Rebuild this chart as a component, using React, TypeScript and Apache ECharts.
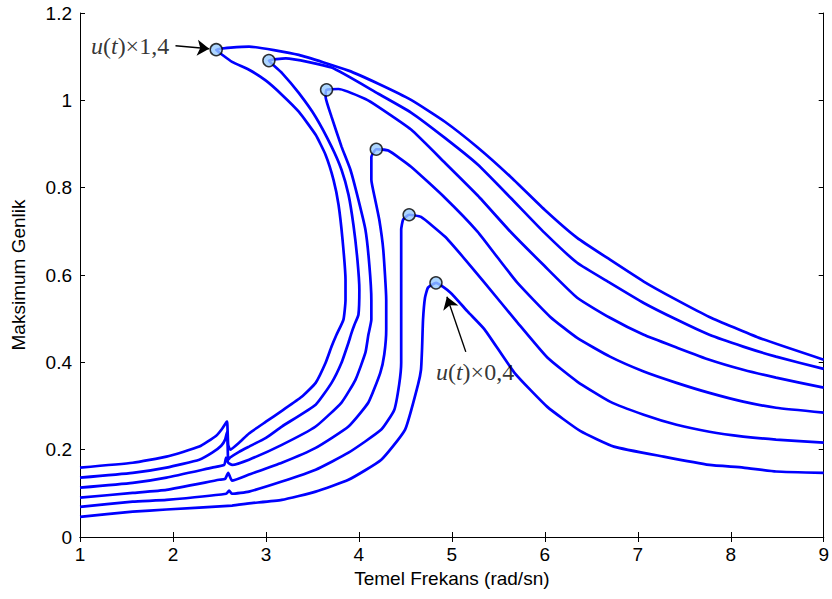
import React, { useEffect, useRef } from 'react';
import * as echarts from 'echarts';

// Frequency-response curves (x: Temel Frekans, y: Maksimum Genlik)
const curve14: number[][] = [
  [1.0, 0.159], [1.567, 0.17], [1.93, 0.184], [2.283, 0.207], [2.465, 0.232], [2.529, 0.248], [2.572, 0.262], [2.583, 0.264],
  [2.594, 0.211], [2.615, 0.2], [2.711, 0.216], [2.818, 0.237], [3.0, 0.264], [3.171, 0.289], [3.385, 0.321], [3.535, 0.353],
  [3.642, 0.399], [3.706, 0.436], [3.759, 0.463], [3.834, 0.498], [3.856, 0.543], [3.856, 0.589], [3.824, 0.681], [3.781, 0.761],
  [3.727, 0.818], [3.642, 0.875], [3.535, 0.921], [3.353, 0.974], [3.171, 1.013], [3.0, 1.045], [2.818, 1.07], [2.636, 1.088],
  [2.465, 1.116], [2.818, 1.123], [3.353, 1.104], [3.888, 1.068], [4.209, 1.038], [4.561, 1.001], [4.925, 0.951], [5.278, 0.892],
  [5.631, 0.825], [5.995, 0.75], [6.348, 0.685], [6.701, 0.635], [7.064, 0.585], [7.417, 0.543], [7.77, 0.504], [8.305, 0.456],
  [9.0, 0.406],
];
const curve12: number[][] = [
  [1.0, 0.136], [1.567, 0.147], [1.93, 0.159], [2.283, 0.177], [2.422, 0.193], [2.519, 0.209], [2.561, 0.223], [2.583, 0.241],
  [2.594, 0.177], [2.615, 0.182], [2.711, 0.195], [2.818, 0.207], [3.0, 0.227], [3.171, 0.253], [3.535, 0.303], [3.706, 0.353],
  [3.813, 0.399], [3.888, 0.445], [3.92, 0.467], [3.952, 0.486], [3.995, 0.509], [4.005, 0.566], [3.984, 0.635], [3.941, 0.715],
  [3.888, 0.784], [3.813, 0.841], [3.706, 0.894], [3.535, 0.962], [3.353, 1.017], [3.171, 1.063], [3.032, 1.091], [3.214, 1.096],
  [3.706, 1.075], [4.209, 1.015], [4.561, 0.972], [4.925, 0.914], [5.278, 0.853], [5.631, 0.777], [5.995, 0.697], [6.348, 0.628],
  [6.701, 0.582], [7.064, 0.536], [7.417, 0.498], [7.77, 0.463], [8.134, 0.436], [8.487, 0.413], [9.0, 0.385],
];
const curve10: number[][] = [
  [1.0, 0.113], [1.567, 0.124], [1.93, 0.136], [2.422, 0.159], [2.551, 0.165], [2.572, 0.182], [2.594, 0.17], [2.636, 0.165],
  [2.818, 0.177], [3.171, 0.211], [3.535, 0.253], [3.813, 0.308], [3.963, 0.36], [4.07, 0.422], [4.102, 0.463], [4.134, 0.498],
  [4.134, 0.543], [4.112, 0.624], [4.07, 0.704], [3.995, 0.772], [3.909, 0.841], [3.813, 0.894], [3.706, 0.962], [3.642, 1.008],
  [3.652, 1.024], [3.781, 1.026], [4.07, 1.003], [4.209, 0.985], [4.561, 0.933], [4.925, 0.857], [5.278, 0.782], [5.631, 0.699],
  [5.995, 0.621], [6.348, 0.548], [6.701, 0.502], [7.064, 0.463], [7.417, 0.434], [7.77, 0.406], [8.134, 0.383], [8.487, 0.365],
  [9.0, 0.342],
];
const curve08: number[][] = [
  [1.0, 0.09], [1.567, 0.101], [1.93, 0.108], [2.497, 0.131], [2.561, 0.133], [2.594, 0.147], [2.636, 0.129], [2.818, 0.143],
  [3.171, 0.17], [3.535, 0.204], [3.888, 0.253], [4.102, 0.308], [4.23, 0.376], [4.273, 0.418], [4.294, 0.475], [4.294, 0.543],
  [4.262, 0.658], [4.219, 0.727], [4.176, 0.772], [4.134, 0.818], [4.134, 0.87], [4.187, 0.888], [4.316, 0.885], [4.561, 0.848],
  [4.925, 0.777], [5.278, 0.699], [5.492, 0.64], [5.706, 0.582], [6.059, 0.504], [6.348, 0.456], [6.701, 0.413], [7.064, 0.379],
  [7.417, 0.353], [7.77, 0.33], [8.134, 0.31], [8.487, 0.296], [9.0, 0.285],
];
const curve06: number[][] = [
  [1.0, 0.069], [1.567, 0.081], [1.93, 0.085], [2.572, 0.099], [2.604, 0.106], [2.636, 0.099], [2.818, 0.104], [3.171, 0.127],
  [3.535, 0.154], [3.888, 0.193], [4.241, 0.246], [4.38, 0.291], [4.433, 0.349], [4.455, 0.399], [4.455, 0.452], [4.455, 0.543],
  [4.455, 0.635], [4.455, 0.704], [4.476, 0.727], [4.54, 0.738], [4.668, 0.733], [4.925, 0.688], [5.096, 0.647], [5.353, 0.582],
  [5.706, 0.491], [6.027, 0.411], [6.348, 0.356], [6.701, 0.31], [7.064, 0.28], [7.417, 0.257], [7.77, 0.241], [8.134, 0.23],
  [8.487, 0.223], [9.0, 0.216],
];
const curve04: number[][] = [
  [1.0, 0.046], [1.567, 0.058], [1.93, 0.063], [2.636, 0.072], [2.818, 0.077], [3.171, 0.085], [3.535, 0.104], [3.888, 0.131],
  [4.241, 0.177], [4.497, 0.246], [4.636, 0.349], [4.668, 0.383], [4.679, 0.429], [4.69, 0.498], [4.711, 0.548], [4.743, 0.571],
  [4.829, 0.582], [4.989, 0.559], [5.171, 0.516], [5.353, 0.475], [5.674, 0.376], [6.027, 0.298], [6.38, 0.243], [6.743, 0.207],
  [7.278, 0.184], [7.77, 0.165], [8.134, 0.159], [8.487, 0.15], [9.0, 0.147],
];
const curves = [curve14, curve12, curve10, curve08, curve06, curve04];

// Peak markers
const peaks: number[][] = [
  [2.465, 1.116], [3.032, 1.091], [3.652, 1.024], [4.187, 0.888], [4.54, 0.738], [4.829, 0.582],
];

// Annotations
const annotationTexts = ['1,4', '0,4'];
const annotationAnchors: number[][] = [[1.118, 1.125], [4.829, 0.377]];
const arrowStarts: number[][] = [[2.027, 1.125], [5.15, 0.424]];
const arrowEnds: number[][] = [[2.39, 1.118], [4.947, 0.55]];

const xMin = 1, xMax = 9, xStep = 1;
const yMin = 0, yMax = 1.2, yStep = 0.2;

export default function App() {
  const ref = useRef<HTMLDivElement>(null);
  useEffect(() => {
    const chart = echarts.init(ref.current!, null, { renderer: 'svg' });
    const sans = '"Liberation Sans", Arial, Helvetica, sans-serif';
    const serif = '"Liberation Serif", "Times New Roman", serif';
    const tickStyle = { show: true, inside: true, length: 5, lineStyle: { color: '#000', width: 1 } };
    const lineSeries = curves.map((d) => ({
      type: 'line',
      data: d,
      showSymbol: false,
      symbol: 'none',
      smooth: 0.15,
      clip: true,
      lineStyle: { color: '#0000ff', width: 2.7 },
      z: 2,
      silent: true,
    }));
    (lineSeries[0] as any).markLine = {
      silent: true,
      symbol: ['none', 'arrow'],
      symbolSize: 12,
      lineStyle: { color: '#000', width: 1.4, type: 'solid' },
      label: { show: false },
      data: arrowStarts.map((s, i) => [{ coord: s }, { coord: arrowEnds[i] }]),
    };
    const option: any = {
      animation: false,
      backgroundColor: '#fff',
      grid: { left: 80, right: 4, top: 13, bottom: 62, containLabel: false },
      xAxis: [
        {
          type: 'value', min: xMin, max: xMax, interval: xStep,
          name: 'Temel Frekans (rad/sn)', nameLocation: 'middle', nameGap: 30,
          nameTextStyle: { fontFamily: sans, fontSize: 19, color: '#000' },
          axisLine: { show: true, lineStyle: { color: '#000', width: 1 } },
          axisTick: tickStyle,
          axisLabel: { fontFamily: sans, fontSize: 19, color: '#000', margin: 8 },
          splitLine: { show: false },
        },
        {
          type: 'value', min: xMin, max: xMax, interval: xStep, position: 'top',
          axisLine: { show: true, lineStyle: { color: '#000', width: 1 } },
          axisTick: tickStyle, axisLabel: { show: false }, splitLine: { show: false },
        },
      ],
      yAxis: [
        {
          type: 'value', min: yMin, max: yMax, interval: yStep,
          name: 'Maksimum Genlik', nameLocation: 'middle', nameGap: 52,
          nameTextStyle: { fontFamily: sans, fontSize: 19, color: '#000' },
          axisLine: { show: true, lineStyle: { color: '#000', width: 1 } },
          axisTick: tickStyle,
          axisLabel: { fontFamily: sans, fontSize: 19, color: '#000', margin: 8 },
          splitLine: { show: false },
        },
        {
          type: 'value', min: yMin, max: yMax, interval: yStep, position: 'right',
          axisLine: { show: true, lineStyle: { color: '#000', width: 1 } },
          axisTick: tickStyle, axisLabel: { show: false }, splitLine: { show: false },
        },
      ],
      series: [
        ...lineSeries,
        {
          type: 'scatter',
          data: peaks,
          symbol: 'circle',
          symbolSize: 12,
          itemStyle: { color: '#99ccff', borderColor: '#000', borderWidth: 1.5 },
          z: 5,
          silent: true,
        },
        {
          type: 'scatter',
          data: annotationAnchors.map((p, i) => ({ value: p, name: annotationTexts[i] })),
          symbolSize: 0,
          itemStyle: { color: 'transparent' },
          z: 6,
          silent: true,
          label: {
            show: true,
            position: 'right',
            distance: 0,
            formatter: (p: any) => `{i|u}{n|(}{i|t}{n|)×${p.name}}`,
            rich: {
              i: { fontFamily: serif, fontStyle: 'italic', fontSize: 24, color: '#000' },
              n: { fontFamily: serif, fontSize: 24, color: '#000' },
            },
          },
        },
      ],
    };
    chart.setOption(option);
    return () => chart.dispose();
  }, []);
  return <div ref={ref} style={{ position: 'absolute', left: 0, top: 0, width: 832, height: 599 }} />;
}
